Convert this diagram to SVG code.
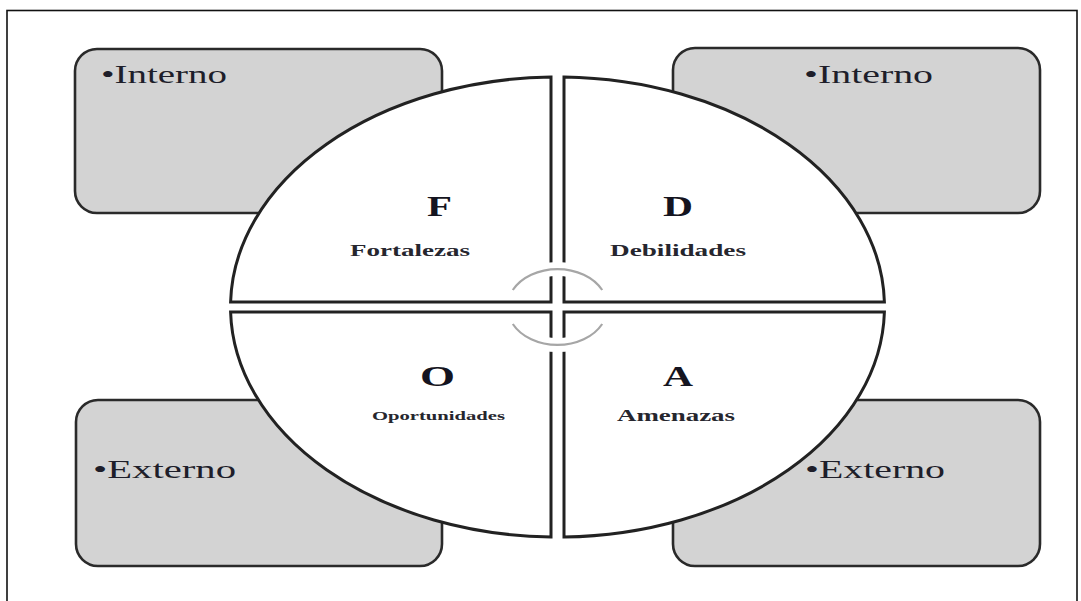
<svg xmlns="http://www.w3.org/2000/svg" width="1081" height="601" viewBox="0 0 1081 601">
<style>
.frame{fill:#fff;stroke:#111;stroke-width:1.6}
.box{fill:#d3d3d3;stroke:#2a2a2a;stroke-width:2.6}
.quad{fill:#fff;stroke:#222;stroke-width:3}
.halo{fill:none;stroke:#fff;stroke-width:14}
.ring{fill:none;stroke:#a6a6a6;stroke-width:2.2}
.bul{font-family:"Liberation Serif","Times New Roman",serif;font-size:26px;fill:#1e1e2a}
.big{font-family:"Liberation Serif","Times New Roman",serif;font-size:30px;font-weight:bold;fill:#141420}
.lbl{font-family:"Liberation Serif","Times New Roman",serif;font-size:17px;font-weight:bold;fill:#26262e}
.lbls{font-family:"Liberation Serif","Times New Roman",serif;font-size:13.5px;font-weight:bold;fill:#26262e}
</style>
<rect class="frame" x="7" y="10.5" width="1070" height="600"/>
<g id="box-interno-left">
<rect class="box" x="75" y="49" width="367" height="164" rx="22"/>
<text class="bul" x="101" y="83" textLength="126" lengthAdjust="spacingAndGlyphs">•Interno</text>
</g>
<g id="box-interno-right">
<rect class="box" x="673" y="48" width="367" height="165" rx="22"/>
<text class="bul" x="804" y="83" textLength="129" lengthAdjust="spacingAndGlyphs">•Interno</text>
</g>
<g id="box-externo-left">
<rect class="box" x="76" y="400" width="366" height="166" rx="22"/>
<text class="bul" x="93" y="478" textLength="143" lengthAdjust="spacingAndGlyphs">•Externo</text>
</g>
<g id="box-externo-right">
<rect class="box" x="673" y="400" width="367" height="166" rx="22"/>
<text class="bul" x="805" y="478" textLength="140" lengthAdjust="spacingAndGlyphs">•Externo</text>
</g>
<g id="quad-F">
<path class="quad" d="M551,302 L551,77 A327,230 0 0,0 230.6,302 Z"/>
<text class="big" x="427" y="216" textLength="25" lengthAdjust="spacingAndGlyphs">F</text>
<text class="lbl" x="350" y="256" textLength="120" lengthAdjust="spacingAndGlyphs">Fortalezas</text>
</g>
<g id="quad-D">
<path class="quad" d="M564,302 L564,77 A327,230 0 0,1 884.4,302 Z"/>
<text class="big" x="663" y="216" textLength="30" lengthAdjust="spacingAndGlyphs">D</text>
<text class="lbl" x="610" y="256" textLength="136" lengthAdjust="spacingAndGlyphs">Debilidades</text>
</g>
<g id="quad-O">
<path class="quad" d="M551,312 L551,537 A327,230 0 0,1 230.6,312 Z"/>
<text class="big" x="420" y="386" textLength="35" lengthAdjust="spacingAndGlyphs">O</text>
<text class="lbls" x="372" y="420" textLength="133" lengthAdjust="spacingAndGlyphs">Oportunidades</text>
</g>
<g id="quad-A">
<path class="quad" d="M564,312 L564,537 A327,230 0 0,0 884.4,312 Z"/>
<text class="big" x="663" y="386" textLength="30" lengthAdjust="spacingAndGlyphs">A</text>
<text class="lbl" x="617" y="421" textLength="118" lengthAdjust="spacingAndGlyphs">Amenazas</text>
</g>
<g id="connectors">
<path class="halo" d="M512.8,290 A50,38 0 0,1 602.2,290"/>
<path class="halo" d="M512.8,324 A50,38 0 0,0 602.2,324"/>
<path class="ring" d="M512.8,290 A50,38 0 0,1 602.2,290"/>
<path class="ring" d="M512.8,324 A50,38 0 0,0 602.2,324"/>
</g>
</svg>
